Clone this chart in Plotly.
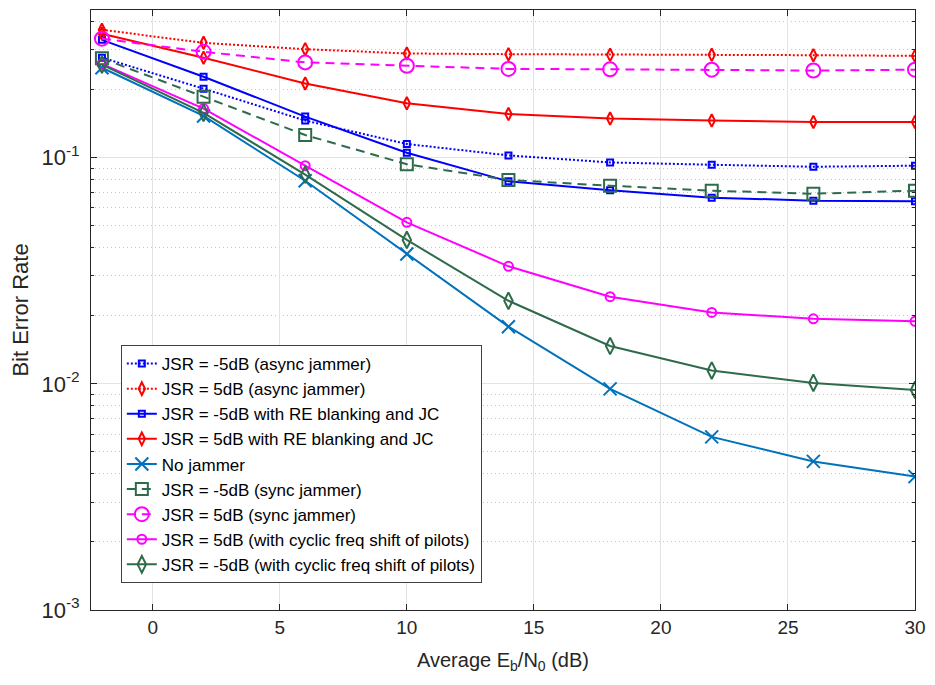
import math
import plotly.graph_objects as go

ebn0 = [-2, 2, 6, 10, 14, 18, 22, 26, 30]

ber_async_m5 = [0.277, 0.202, 0.146, 0.115, 0.1024, 0.0953, 0.0931, 0.0912, 0.0922]
ber_async_p5 = [0.368, 0.322, 0.302, 0.289, 0.287, 0.285, 0.285, 0.284, 0.282]
ber_blank_m5 = [0.332, 0.228, 0.152, 0.1052, 0.0786, 0.0718, 0.0666, 0.0646, 0.0642]
ber_blank_p5 = [0.353, 0.277, 0.213, 0.174, 0.156, 0.149, 0.146, 0.144, 0.144]
ber_nojam = [0.250, 0.153, 0.0791, 0.0375, 0.0179, 0.0095, 0.00583, 0.00454, 0.00389]
ber_sync_m5 = [0.275, 0.186, 0.126, 0.0936, 0.0797, 0.0752, 0.0715, 0.0693, 0.0715]
ber_sync_p5 = [0.336, 0.294, 0.264, 0.255, 0.247, 0.246, 0.245, 0.243, 0.245]
ber_cyc_p5 = [0.260, 0.165, 0.0922, 0.0518, 0.0331, 0.0243, 0.0207, 0.0194, 0.0189]
ber_cyc_m5 = [0.258, 0.158, 0.0841, 0.0433, 0.0233, 0.0147, 0.01145, 0.0101, 0.0094]

names = [
    "JSR = -5dB (async jammer)",
    "JSR = 5dB (async jammer)",
    "JSR = -5dB with RE blanking and JC",
    "JSR = 5dB with RE blanking and JC",
    "No jammer",
    "JSR = -5dB (sync jammer)",
    "JSR = 5dB (sync jammer)",
    "JSR = 5dB (with cyclic freq shift of pilots)",
    "JSR = -5dB (with cyclic freq shift of pilots)",
]

BLUE = "#0000FF"
RED = "#FF0000"
MBLUE = "#0072BD"
GREEN = "#2F6B4B"
MAG = "#FF00FF"

styles = [
    (ber_async_m5, BLUE, "2px,2px", "square-open", 6),
    (ber_async_p5, RED, "2px,2px", "diamond-tall-open", 9),
    (ber_blank_m5, BLUE, "solid", "square-open", 6),
    (ber_blank_p5, RED, "solid", "diamond-tall-open", 9),
    (ber_nojam, MBLUE, "solid", "x-thin-open", 13),
    (ber_sync_m5, GREEN, "9px,6px", "square-open", 12),
    (ber_sync_p5, MAG, "9px,6px", "circle-open", 14),
    (ber_cyc_p5, MAG, "solid", "circle-open", 9),
    (ber_cyc_m5, GREEN, "solid", "diamond-tall-open", 12),
]

fig = go.Figure()
for name, (vals, col, dash, sym, size) in zip(names, styles):
    fig.add_trace(go.Scatter(
        x=ebn0, y=vals, name=name, mode="lines+markers",
        line=dict(color=col, width=2, dash=dash),
        marker=dict(symbol=sym, size=size, color=col, line=dict(color=col, width=2)),
    ))

y_top = 0.45
minor_vals = [m * 10 ** e for e in (-3, -2, -1) for m in range(2, 10)]
minor_vals = [v for v in minor_vals if v < y_top]

axcol = "#262626"
fig.update_layout(
    width=935, height=685,
    margin=dict(l=91, r=16, t=9, b=75),
    paper_bgcolor="white", plot_bgcolor="white",
    font=dict(family="Liberation Sans, Arial, sans-serif", color=axcol),
    xaxis=dict(
        range=[-2.43, 30], tickvals=[0, 5, 10, 15, 20, 25, 30],
        ticks="inside", ticklen=6, tickcolor=axcol, tickfont=dict(size=19),
        showline=True, linecolor=axcol, linewidth=1, mirror="allticks",
        showgrid=True, gridcolor="#E3E3E3", gridwidth=1, zeroline=False,
        title=dict(text="Average E<sub>b</sub>/N<sub>0</sub> (dB)", font=dict(size=20), standoff=16),
    ),
    yaxis=dict(
        type="log", range=[-3, math.log10(y_top)],
        tickvals=[1e-3, 1e-2, 1e-1],
        ticktext=["10<sup>-3</sup>", "10<sup>-2</sup>", "10<sup>-1</sup>"],
        ticks="inside", ticklen=6, tickcolor=axcol, tickfont=dict(size=22),
        showline=True, linecolor=axcol, linewidth=1, mirror="allticks",
        showgrid=True, gridcolor="#E3E3E3", gridwidth=1, zeroline=False,
        ticklabelstandoff=6,
        minor=dict(tickvals=minor_vals, ticks="inside", ticklen=3, tickcolor=axcol,
                   showgrid=True, gridcolor="#C4C4C4", griddash="1px,3px", gridwidth=1),
        title=dict(text="Bit Error Rate", font=dict(size=22), standoff=6),
    ),
    legend=dict(
        x=0.0362, y=0.045, xanchor="left", yanchor="bottom",
        bgcolor="white", bordercolor="#404040", borderwidth=1,
        font=dict(size=17, color="black"), tracegroupgap=0,
    ),
    showlegend=True,
)

fig.write_html("out.html")
